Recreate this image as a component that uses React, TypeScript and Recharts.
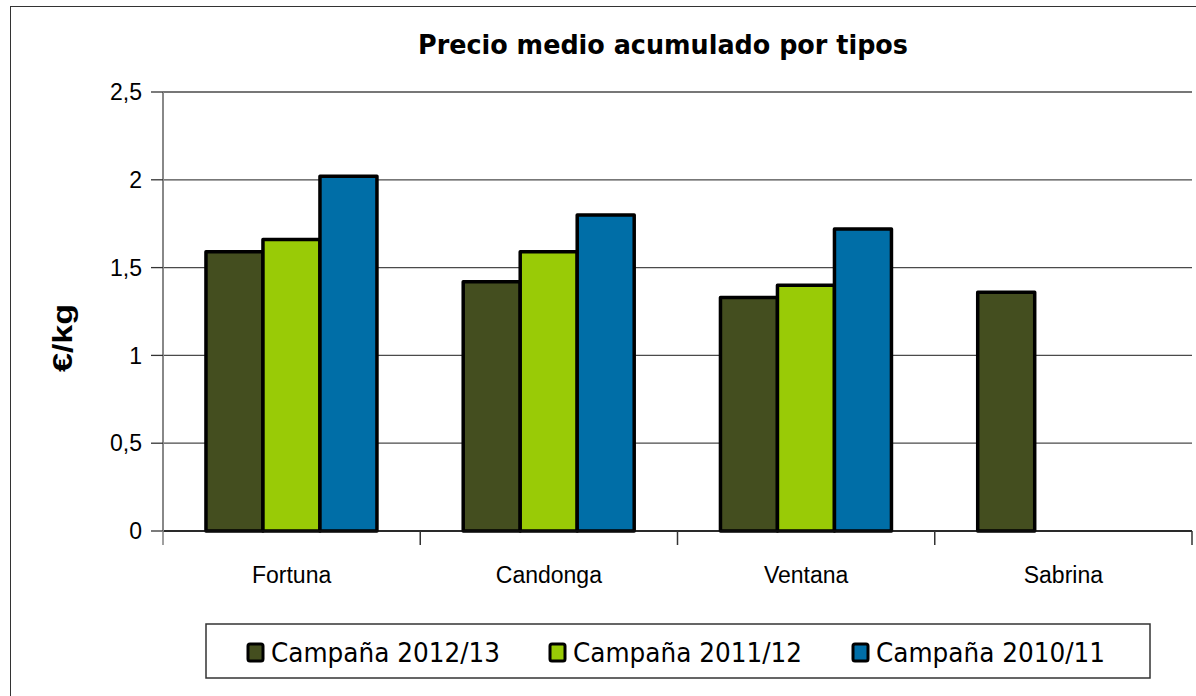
import React from 'react';
import { BarChart, Bar, XAxis, YAxis, CartesianGrid } from 'recharts';

const CATEGORIES = ['Fortuna', 'Candonga', 'Ventana', 'Sabrina'];
const SERIES_NAMES = ['Campaña 2012/13', 'Campaña 2011/12', 'Campaña 2010/11'];
const CAMPANA_2012_13 = [1.59, 1.42, 1.33, 1.36];
const CAMPANA_2011_12 = [1.66, 1.59, 1.40, null];
const CAMPANA_2010_11 = [2.02, 1.80, 1.72, null];
const Y_TICKS = [0, 0.5, 1, 1.5, 2, 2.5];
const TITLE = 'Precio medio acumulado por tipos';
const Y_LABEL = '€/kg';

const COLORS = ['#444E1F', '#99CB06', '#006EA7'];
const SERIES_VALUES = [CAMPANA_2012_13, CAMPANA_2011_12, CAMPANA_2010_11];
const KEYS = ['s0', 's1', 's2'];

const data = CATEGORIES.map((name, i) => {
  const row: any = { name };
  SERIES_VALUES.forEach((vals, s) => {
    row[KEYS[s]] = vals[i];
  });
  return row;
});

const XTick = (props: any) => {
  const { x, y, payload, index, width } = props;
  const half =
    payload && payload.offset > 0 ? payload.offset : (width || 1029) / CATEGORIES.length / 2;
  return (
    <g>
      <line
        x1={x - half}
        x2={x - half}
        y1={y}
        y2={y + 14}
        stroke={index === 0 ? '#808080' : '#333'}
        strokeWidth={1.5}
      />
      {index === CATEGORIES.length - 1 && (
        <line x1={x + half} x2={x + half} y1={y} y2={y + 14} stroke="#333" strokeWidth={1.5} />
      )}
      <text
        x={x}
        y={y + 52}
        textAnchor="middle"
        fontFamily="'Liberation Sans', Arial, sans-serif"
        fontSize={23}
        fill="#000"
      >
        {payload.value}
      </text>
    </g>
  );
};

export default function App() {
  return (
    <div
      style={{
        position: 'absolute',
        left: 0,
        top: 0,
        width: 1196,
        height: 696,
        overflow: 'hidden',
        background: '#fff',
      }}
    >
      <div
        style={{
          position: 'absolute',
          left: 10,
          top: 6,
          width: 1200,
          height: 720,
          border: '1.5px solid #333',
          boxSizing: 'border-box',
        }}
      />
      <div style={{ position: 'absolute', left: 0, top: 0 }}>
        <BarChart
          width={1196}
          height={696}
          data={data}
          margin={{ top: 92, right: 4, bottom: 105, left: 63 }}
          barGap={0}
          barCategoryGap="16.7%"
        >
          <CartesianGrid vertical={false} stroke="#4a4a4a" strokeWidth={1.3} />
          <XAxis
            dataKey="name"
            height={60}
            axisLine={{ stroke: '#111', strokeWidth: 1.5 }}
            tickLine={false}
            tickSize={0}
            tickMargin={0}
            interval={0}
            tick={<XTick />}
          />
          <YAxis
            width={100}
            domain={[0, 2.5]}
            ticks={Y_TICKS}
            interval={0}
            axisLine={{ stroke: '#888', strokeWidth: 2 }}
            tickLine={{ stroke: '#333', strokeWidth: 1.3 }}
            tickSize={12}
            tickMargin={9}
            tickFormatter={(v: number) => String(v).replace('.', ',')}
            tick={{
              fontFamily: "'Liberation Sans', Arial, sans-serif",
              fontSize: 23,
              fill: '#000',
            }}
          />
          {KEYS.map((k, s) => (
            <Bar
              key={k}
              dataKey={k}
              name={SERIES_NAMES[s]}
              fill={COLORS[s]}
              stroke="#000"
              strokeWidth={3.5}
              strokeLinejoin="round"
              isAnimationActive={false}
            />
          ))}
        </BarChart>
      </div>
      <svg
        width={1196}
        height={696}
        style={{ position: 'absolute', left: 0, top: 0, pointerEvents: 'none' }}
      >
        <text
          x={663}
          y={54}
          textAnchor="middle"
          fontFamily="'DejaVu Sans', sans-serif"
          fontWeight="bold"
          fontSize={27}
          textLength={490}
          lengthAdjust="spacingAndGlyphs"
          fill="#000"
        >
          {TITLE}
        </text>
        <text
          x={72}
          y={338}
          transform="rotate(-90 72 338)"
          textAnchor="middle"
          fontFamily="'Liberation Sans', Arial, sans-serif"
          fontWeight="bold"
          fontSize={27}
          textLength={68}
          lengthAdjust="spacingAndGlyphs"
          fill="#000"
        >
          {Y_LABEL}
        </text>
        <rect x={206} y={624} width={944} height={54} fill="none" stroke="#333" strokeWidth={1.5} />
        {SERIES_NAMES.map((name, s) => {
          const sqX = [248, 550, 853][s];
          return (
            <g key={name}>
              <rect
                x={sqX}
                y={644}
                width={15}
                height={17}
                rx={2}
                fill={COLORS[s]}
                stroke="#000"
                strokeWidth={3}
              />
              <text
                x={sqX + 23}
                y={662}
                fontFamily="'DejaVu Sans', sans-serif"
                fontSize={26}
                textLength={229}
                lengthAdjust="spacingAndGlyphs"
                fill="#000"
              >
                {name}
              </text>
            </g>
          );
        })}
      </svg>
    </div>
  );
}
